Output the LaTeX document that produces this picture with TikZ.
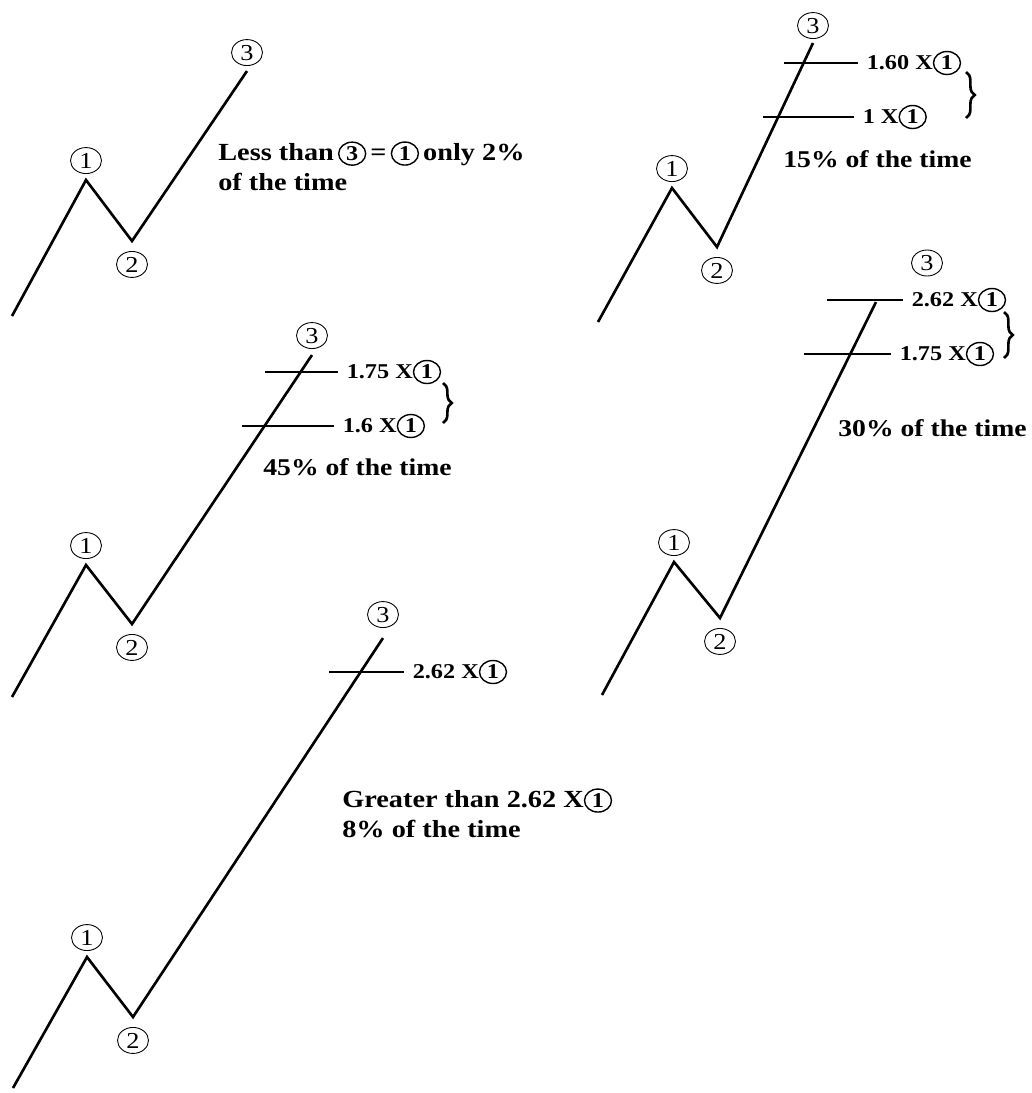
\documentclass[tikz,border=0pt]{standalone}
\usepackage{fontspec}
\setmainfont{Liberation Serif}[FakeStretch=1.15]
\usetikzlibrary{shapes.geometric, positioning, decorations.pathreplacing}
\tikzset{
  wave/.style={line width=1.5pt, line join=miter},
  lvlthick/.style={line width=1.1pt},
  lvlthin/.style={line width=0.6pt},
  wnum/.style={ellipse, draw, line width=0.5pt, inner sep=0pt, minimum width=0.62cm,
    minimum height=0.52cm, font=\fontsize{13}{13}\selectfont},
  tnum/.style={ellipse, draw, line width=0.8pt, inner sep=0pt, minimum width=0.54cm,
    minimum height=0.46cm, font=\fontsize{12}{12}\selectfont\bfseries},
  lvltext/.style={anchor=west, inner sep=0pt, outer sep=5pt,
    font=\fontsize{12}{12}\selectfont\bfseries},
  capt/.style={anchor=north west, align=left, inner sep=0pt,
    font=\fontsize{14}{17}\selectfont\bfseries},
  captone/.style={anchor=west, inner sep=0pt, font=\fontsize{13.7}{17}\selectfont\bfseries},
  brc/.style={decorate, decoration={brace, amplitude=5pt}, line width=1.5pt},
}
\newcommand{\circnum}[1]{\tikz[baseline=(t.base)]\node[tnum] (t) {#1};}

\begin{document}
\begin{tikzpicture}[x=0.02cm, y=-0.02cm]
  \useasboundingbox (0,0) rectangle (1032,1093);

  \coordinate (a0) at (12,316);
  \coordinate (a1) at (86,180);
  \coordinate (a2) at (132,241);
  \coordinate (a3) at (247,71);
  \draw[wave] (a0) -- (a1) -- (a2) -- (a3);
  \node[wnum, above=0.12cm of a1] (a1n) {1};
  \node[wnum, below=0.2cm of a2] (a2n) {2};
  \node[wnum, above=0.1cm of a3] (a3n) {3};
  \node[capt] (acap) at (218,141) {Less than\,\circnum{3}\,=\,\circnum{1}\,only 2\%\\of the time};

  \coordinate (b0) at (598,322);
  \coordinate (b1) at (672,188);
  \coordinate (b2) at (717,247);
  \coordinate (b3) at (813,43);
  \draw[wave] (b0) -- (b1) -- (b2) -- (b3);
  \node[wnum, above=0.12cm of b1] (b1n) {1};
  \node[wnum, below=0.2cm of b2] (b2n) {2};
  \node[wnum, above=0.08cm of b3] (b3n) {3};
  \coordinate (b160s) at (784,63);
  \coordinate (b100s) at (763,117);
  \node[lvltext] (b160) at (858,63) {1.60 X\circnum{1}};
  \node[lvltext] (b100) at (854,117) {1 X\circnum{1}};
  \draw[lvlthick] (b160s) -- (b160s -| b160.west);
  \draw[lvlthick] (b100s) -- (b100s -| b100.west);
  \coordinate (bbt) at (966,72);
  \coordinate (bbb) at (966,118);
  \draw[brc] (bbt) -- (bbb);
  \node[captone] (bcap) at (783,159) {15\% of the time};

  \coordinate (c0) at (12,697);
  \coordinate (c1) at (86,565);
  \coordinate (c2) at (132,624);
  \coordinate (c3) at (312,355);
  \draw[wave] (c0) -- (c1) -- (c2) -- (c3);
  \node[wnum, above=0.12cm of c1] (c1n) {1};
  \node[wnum, below=0.2cm of c2] (c2n) {2};
  \node[wnum, above=0.12cm of c3] (c3n) {3};
  \coordinate (c175s) at (265,372);
  \coordinate (c160s) at (242,426);
  \node[lvltext] (c175) at (338,372) {1.75 X\circnum{1}};
  \node[lvltext] (c160) at (334,426) {1.6 X\circnum{1}};
  \draw[lvlthick] (c175s) -- (c175s -| c175.west);
  \draw[lvlthin] (c160s) -- (c160s -| c160.west);
  \coordinate (cbt) at (443,383);
  \coordinate (cbb) at (443,423);
  \draw[brc] (cbt) -- (cbb);
  \node[captone] (ccap) at (263,467) {45\% of the time};

  \coordinate (d0) at (602,695);
  \coordinate (d1) at (674,562);
  \coordinate (d2) at (720,618);
  \coordinate (d3) at (876,302);
  \draw[wave] (d0) -- (d1) -- (d2) -- (d3);
  \node[wnum, above=0.12cm of d1] (d1n) {1};
  \node[wnum, below=0.2cm of d2] (d2n) {2};
  \node[wnum] (d3n) at (927,263) {3};
  \coordinate (d262s) at (827,300);
  \coordinate (d175s) at (804,354);
  \node[lvltext] (d262) at (903,300) {2.62 X\circnum{1}};
  \node[lvltext] (d175) at (891,354) {1.75 X\circnum{1}};
  \draw[lvlthick] (d262s) -- (d262s -| d262.west);
  \draw[lvlthin] (d175s) -- (d175s -| d175.west);
  \coordinate (dbt) at (1004,312);
  \coordinate (dbb) at (1004,358);
  \draw[brc] (dbt) -- (dbb);
  \node[captone] (dcap) at (838,428) {30\% of the time};

  \coordinate (e0) at (13,1088);
  \coordinate (e1) at (87,957);
  \coordinate (e2) at (133,1017);
  \coordinate (e3) at (383,638);
  \draw[wave] (e0) -- (e1) -- (e2) -- (e3);
  \node[wnum, above=0.12cm of e1] (e1n) {1};
  \node[wnum, below=0.2cm of e2] (e2n) {2};
  \node[wnum, above=0.2cm of e3] (e3n) {3};
  \coordinate (e262s) at (329,672);
  \node[lvltext] (e262) at (404,672) {2.62 X\circnum{1}};
  \draw[lvlthick] (e262s) -- (e262s -| e262.west);
  \node[capt] (ecap) at (342,788) {Greater than 2.62 X\circnum{1}\\8\% of the time};
\end{tikzpicture}
\end{document}
